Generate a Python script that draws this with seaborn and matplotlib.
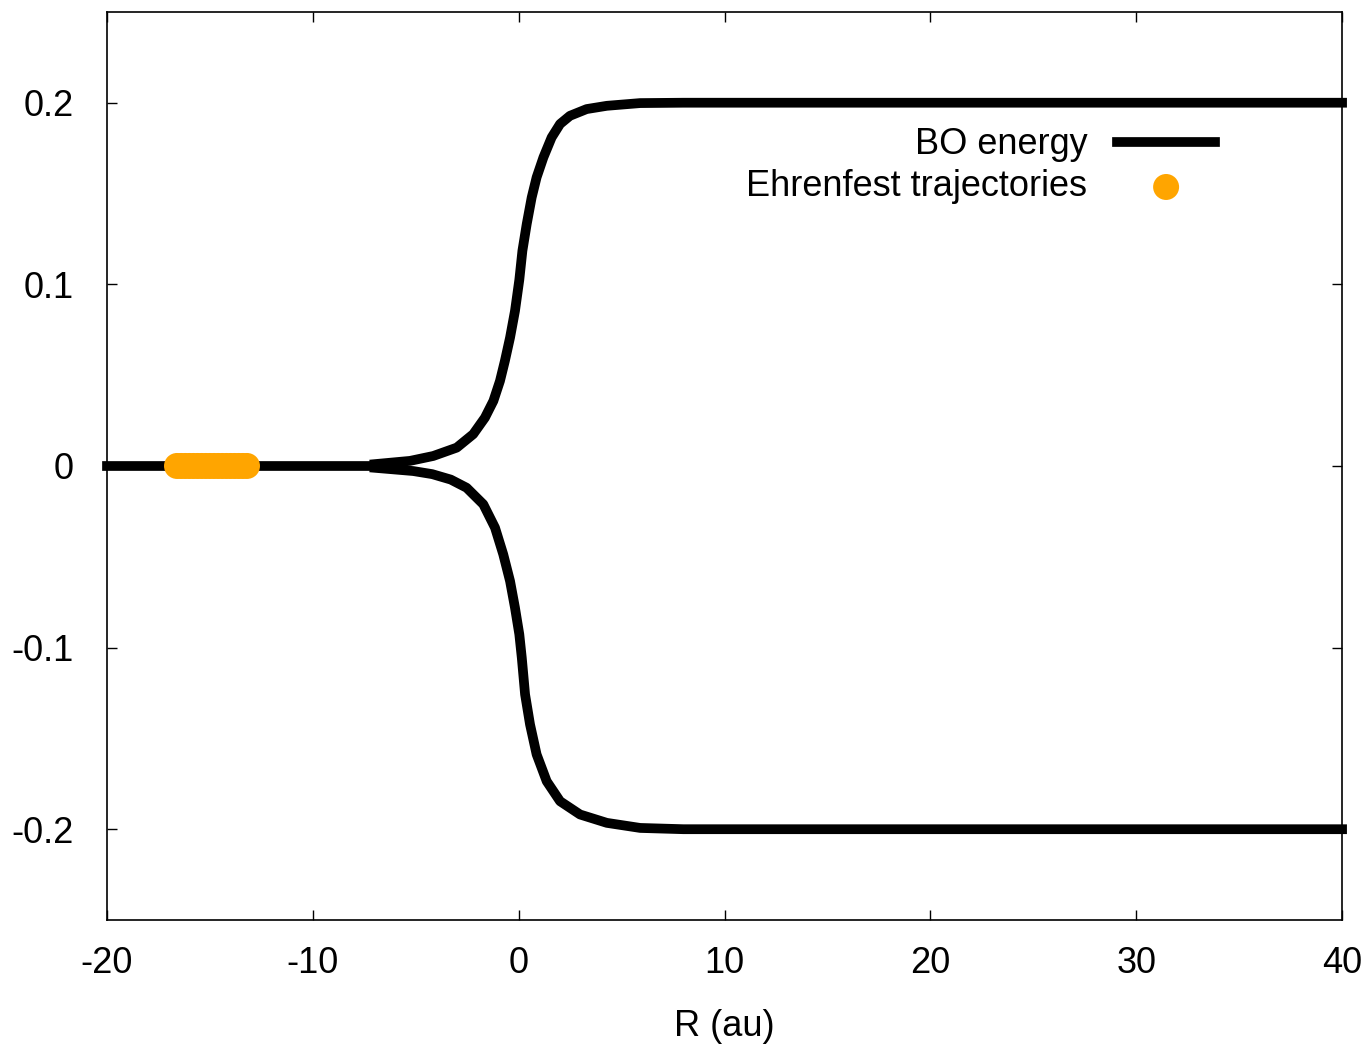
import numpy as np
import pandas as pd
import matplotlib
matplotlib.use("Agg")
import matplotlib.pyplot as plt
import seaborn as sns

# flat part of the BO energy before the two surfaces separate
flat_r = [-20.0, -7.0]
flat_e = [0.0, 0.0]

# upper BO surface
upper_r = [-7.0, -5.28, -4.15, -3.01, -2.21, -1.64, -1.23, -0.91, -0.67, -0.42,
           -0.18, 0.03, 0.18, 0.39, 0.63, 0.87, 1.2, 1.6, 2.01, 2.49,
           3.3, 4.28, 5.9, 8.0, 40.0]
upper_e = [0.001, 0.0028, 0.0055, 0.0101, 0.0175, 0.0266, 0.0358, 0.0468, 0.0579, 0.0707,
           0.0854, 0.1025, 0.1185, 0.1332, 0.1478, 0.1589, 0.1699, 0.1809, 0.1883, 0.1928,
           0.1965, 0.1983, 0.1998, 0.2, 0.2]

# lower BO surface
lower_r = [-7.0, -5.12, -4.2, -3.3, -2.53, -1.72, -1.15, -0.75, -0.42, -0.18, 0.03,
           0.15, 0.31, 0.55, 0.87, 1.36, 2.01, 2.98, 4.28, 5.9, 8.0, 40.0]
lower_e = [-0.001, -0.0028, -0.0045, -0.0075, -0.012, -0.0211, -0.034, -0.0487, -0.0634, -0.0781, -0.0927,
           -0.1056, -0.1258, -0.1423, -0.1588, -0.1736, -0.1846, -0.1919, -0.1965, -0.1993, -0.2, -0.2]

# Ehrenfest trajectory positions (all still at E = 0)
traj_r = [-16.6, -16.4, -16.2, -16.0, -15.8, -15.6, -15.4, -15.2, -15.0, -14.8,
          -14.6, -14.4, -14.2, -14.0, -13.8, -13.6, -13.4, -13.2]
traj_e = [0.0] * len(traj_r)

sns.set_theme(style="ticks")
plt.rcParams['font.family'] = ['Liberation Sans', 'DejaVu Sans']
plt.rcParams['axes.unicode_minus'] = False
plt.rcParams['text.color'] = 'black'
plt.rcParams['axes.labelcolor'] = 'black'

fig = plt.figure(figsize=(13.65, 10.45), dpi=100)
ax = fig.add_axes([0.0784, 0.1196, 0.9048, 0.869])

lw = 7
line_kws = dict(color="black", linewidth=lw, solid_capstyle="projecting",
                solid_joinstyle="round", clip_on=False)
sns.lineplot(x=flat_r, y=flat_e, ax=ax, sort=False, label="BO energy", **line_kws)
sns.lineplot(x=upper_r, y=upper_e, ax=ax, sort=False, **line_kws)
sns.lineplot(x=lower_r, y=lower_e, ax=ax, sort=False, **line_kws)
sns.scatterplot(x=traj_r, y=traj_e, ax=ax, color="#ffa500", s=350, edgecolor="none",
                label="Ehrenfest trajectories", zorder=5)

ax.set_xlim(-20, 40)
ax.set_ylim(-0.25, 0.25)
ax.set_xticks([-20, -10, 0, 10, 20, 30, 40])
ax.set_yticks([-0.2, -0.1, 0, 0.1, 0.2])
ax.set_yticklabels(["-0.2", "-0.1", "0", "0.1", "0.2"])
ax.set_xlabel("R (au)", fontsize=26, labelpad=20)
ax.set_ylabel("")
ax.tick_params(direction="in", length=7, width=1, top=True, right=True,
               labelsize=26, colors="black")
ax.tick_params(axis="y", pad=24)
ax.tick_params(axis="x", pad=19)
for sp in ax.spines.values():
    sp.set_visible(True)
    sp.set_linewidth(1.2)
    sp.set_color("black")

ax.legend(loc="upper right", bbox_to_anchor=(0.897, 0.873), frameon=False,
          markerfirst=False, fontsize=26, handlelength=2.7, handletextpad=0.83,
          labelspacing=0.2, borderaxespad=0, borderpad=0)

fig.savefig("out.png", dpi=100)
